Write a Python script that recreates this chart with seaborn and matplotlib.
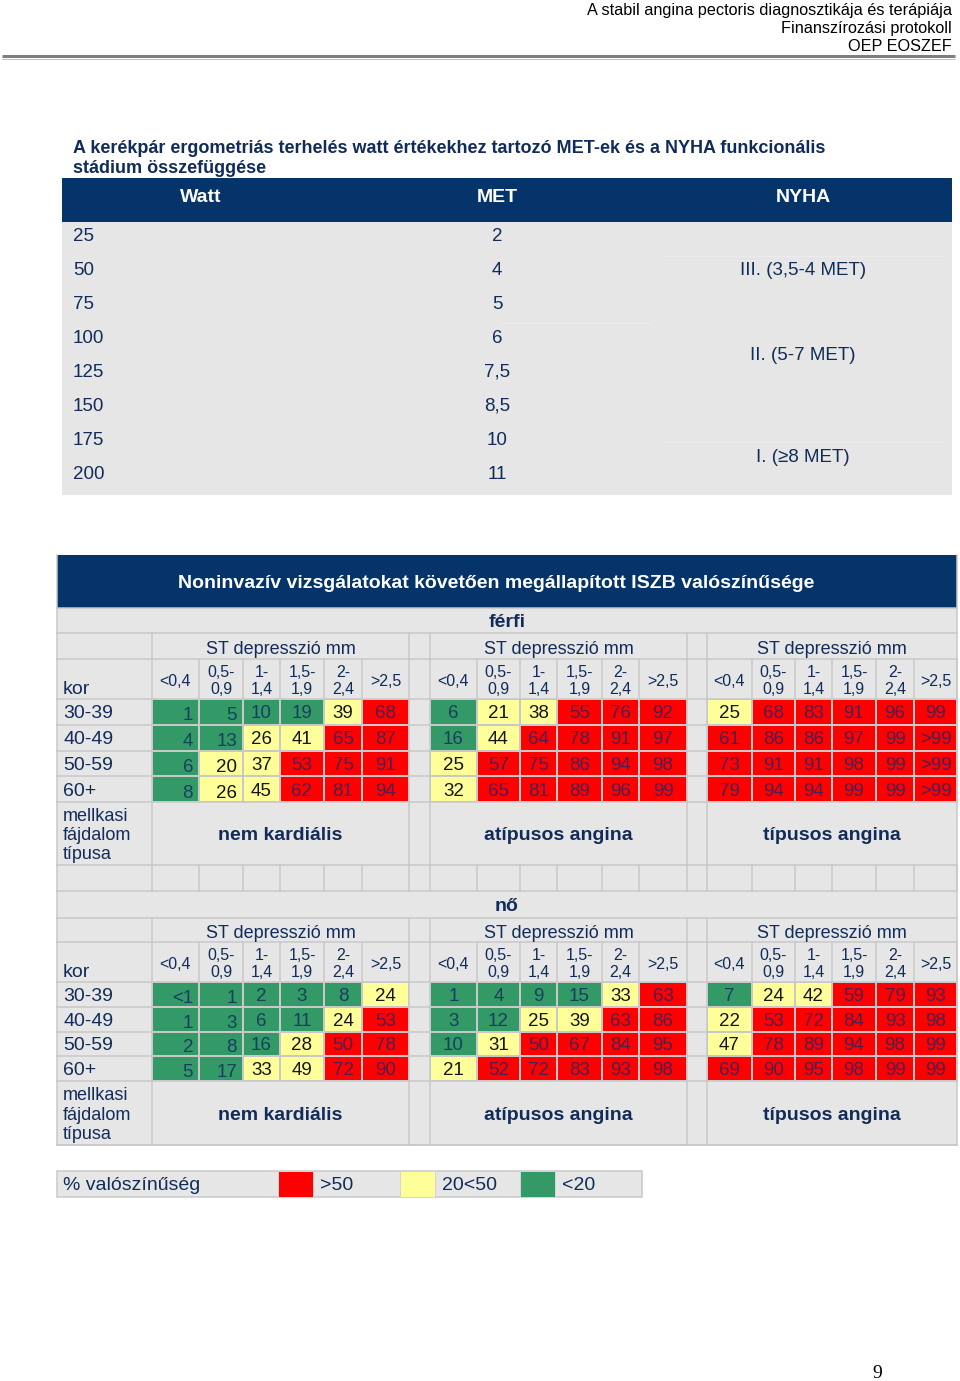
import numpy as np
import pandas as pd
import seaborn as sns
import matplotlib
matplotlib.use("Agg")
import matplotlib.pyplot as plt
from matplotlib.colors import ListedColormap, BoundaryNorm
from matplotlib.patches import Rectangle
from matplotlib.transforms import blended_transform_factory, offset_copy

# ---------------- data ----------------
page_header = ["A stabil angina pectoris diagnosztikája és terápiája",
               "Finanszírozási protokoll", "OEP EOSZEF"]
table1_title = ["A kerékpár ergometriás terhelés watt értékekhez tartozó MET-ek és a NYHA funkcionális",
                "stádium összefüggése"]
table1_columns = ["Watt", "MET", "NYHA"]
watt_values = ["25", "50", "75", "100", "125", "150", "175", "200"]
met_values = ["2", "4", "5", "6", "7,5", "8,5", "10", "11"]
nyha_labels = ["III. (3,5-4 MET)", "II. (5-7 MET)", "I. (≥8 MET)"]
nyha_row_spans = [(1, 1), (3, 4), (6, 7)]

table2_title = "Noninvazív vizsgálatokat követően megállapított ISZB valószínűsége"
sexes = ["férfi", "nő"]
st_header = "ST depresszió mm"
st_categories = ["<0,4", "0,5-\n0,9", "1-\n1,4", "1,5-\n1,9", "2-\n2,4", ">2,5"]
age_header = "kor"
age_groups = ["30-39", "40-49", "50-59", "60+"]
pain_header = "mellkasi\nfájdalom\ntípusa"
pain_types = ["nem kardiális", "atípusos angina", "típusos angina"]

male_nonkardialis = [["1", "5", "10", "19", "39", "68"],
                     ["4", "13", "26", "41", "65", "87"],
                     ["6", "20", "37", "53", "75", "91"],
                     ["8", "26", "45", "62", "81", "94"]]
male_atipusos = [["6", "21", "38", "55", "76", "92"],
                 ["16", "44", "64", "78", "91", "97"],
                 ["25", "57", "75", "86", "94", "98"],
                 ["32", "65", "81", "89", "96", "99"]]
male_tipusos = [["25", "68", "83", "91", "96", "99"],
                ["61", "86", "86", "97", "99", ">99"],
                ["73", "91", "91", "98", "99", ">99"],
                ["79", "94", "94", "99", "99", ">99"]]
female_nonkardialis = [["<1", "1", "2", "3", "8", "24"],
                       ["1", "3", "6", "11", "24", "53"],
                       ["2", "8", "16", "28", "50", "78"],
                       ["5", "17", "33", "49", "72", "90"]]
female_atipusos = [["1", "4", "9", "15", "33", "63"],
                   ["3", "12", "25", "39", "63", "86"],
                   ["10", "31", "50", "67", "84", "95"],
                   ["21", "52", "72", "83", "93", "98"]]
female_tipusos = [["7", "24", "42", "59", "79", "93"],
                  ["22", "53", "72", "84", "93", "98"],
                  ["47", "78", "89", "94", "98", "99"],
                  ["69", "90", "95", "98", "99", "99"]]
probabilities = {"férfi": [male_nonkardialis, male_atipusos, male_tipusos],
                 "nő": [female_nonkardialis, female_atipusos, female_tipusos]}

legend_title = "% valószínűség"
legend_labels = [">50", "20<50", "<20"]
prob_bounds = [0, 20, 50, 101]
page_number = "9"

# ---------------- style ----------------
W, H = 960, 1381
NAVY = "#04346a"
NAVY_TXT = "#112c5a"
GREY_BG = "#e6e6e6"
GRID = "#c8c8c8"
GREEN, YELLOW, RED = "#339966", "#ffff99", "#ff0000"
CELL_TXT = ["#17405e", "#151515", "#4d1f50"]
DY = 2  # visual centring correction (pixels)

sns.set_theme(style="white")
plt.rcParams["font.family"] = ["Liberation Sans", "DejaVu Sans"]

fig = plt.figure(figsize=(W / 100, H / 100), dpi=100)
bg = fig.add_axes([0, 0, 1, 1], zorder=0)
bg.set_xlim(0, W); bg.set_ylim(H, 0); bg.axis("off")
ov = fig.add_axes([0, 0, 1, 1], zorder=3)
ov.set_xlim(0, W); ov.set_ylim(H, 0); ov.axis("off")

PX = 0.72  # points per pixel

# ---------------- page header ----------------
for i, line in enumerate(page_header):
    bg.text(952, 8 + DY + 18 * i, line, ha="right", va="center", fontsize=11.7, color="#000000")
bg.plot([2, 955], [56, 56], color="#7f7f7f", lw=3 * PX, solid_capstyle="butt")
bg.plot([2, 955], [58.5, 58.5], color="#c0c0c0", lw=1 * PX, solid_capstyle="butt")

# ---------------- table 1 ----------------
for i, line in enumerate(table1_title):
    bg.text(73, 147 + 1 + 20.5 * i, line, ha="left", va="center", fontsize=13,
            fontweight="bold", color=NAVY_TXT, zorder=3)
bg.add_patch(Rectangle((62, 178), 890, 44, color=NAVY, lw=0))
bg.add_patch(Rectangle((62, 222), 890, 273, color=GREY_BG, lw=0))
col_x = [201, 497, 803]
for x, name in zip(col_x, table1_columns):
    bg.text(x, 195 + DY, name, ha="center", va="center", fontsize=14, fontweight="bold", color="white")
row_y = [234 + DY + 34.05 * i for i in range(len(watt_values))]
for y, w, m in zip(row_y, watt_values, met_values):
    bg.text(73, y, w, ha="left", va="center", fontsize=13.5, color=NAVY_TXT)
    bg.text(497, y, m, ha="center", va="center", fontsize=13.5, color=NAVY_TXT)
for lab, (r0, r1) in zip(nyha_labels, nyha_row_spans):
    y = (row_y[r0] + row_y[r1]) / 2
    bg.text(803, y, lab, ha="center", va="center", fontsize=13.5, color=NAVY_TXT)
for y, x0, x1 in [(256, 665, 945), (323, 500, 650), (442, 665, 945)]:
    bg.plot([x0, x1], [y, y], color="#ececec", lw=1 * PX)

# ---------------- table 2 ----------------
TL, TR = 57, 957
blocks = [[152, 199, 243, 280, 324, 362, 409],
          [430, 477, 520, 557, 602, 639, 687],
          [707, 752, 795, 832, 876, 914, 957]]
major_v = [152, 409, 430, 687, 707]
all_v = sorted(set(sum(blocks, [])))
sections = [dict(top=608, st=633, hdr=659, data=699, pain=802, bottom=865),
            dict(top=891, st=918, hdr=942, data=982, pain=1081, bottom=1145)]

bg.add_patch(Rectangle((TL, 555), TR - TL, 53, color=NAVY, lw=0))
bg.text(496, 581 + DY, table2_title, ha="center", va="center", fontsize=14,
        fontweight="bold", color="white")
bg.add_patch(Rectangle((TL, 608), TR - TL, 1145 - 608, color=GREY_BG, lw=0))

cmap = ListedColormap([GREEN, YELLOW, RED])
norm = BoundaryNorm(prob_bounds, cmap.N)


def to_num(s):
    if s.startswith("<"):
        return float(s[1:]) - 0.5
    if s.startswith(">"):
        return float(s[1:]) + 0.5
    return float(s.replace(",", "."))


def hline(y, x0=TL, x1=TR):
    ov.plot([x0, x1], [y, y], color=GRID, lw=1.5 * PX, solid_capstyle="projecting")


def vline(x, y0, y1):
    ov.plot([x, x], [y0, y1], color=GRID, lw=1.5 * PX, solid_capstyle="projecting")


for sex, sec in zip(sexes, sections):
    row_edges = np.linspace(sec["data"], sec["pain"], len(age_groups) + 1)
    ov.text((TL + TR) / 2, (sec["top"] + sec["st"]) / 2 + DY, sex, ha="center", va="center",
            fontsize=14, fontweight="bold", color=NAVY_TXT)
    ov.text(63, sec["data"] - 12 + DY, age_header, ha="left", va="center", fontsize=14,
            color=NAVY_TXT)
    ov.text(63, (sec["pain"] + sec["bottom"]) / 2 + DY, pain_header, ha="left", va="center",
            fontsize=13, color=NAVY_TXT, linespacing=1.17)
    for k, (edges, ptype) in enumerate(zip(blocks, pain_types)):
        cx = (edges[0] + edges[-1]) / 2
        ov.text(cx, (sec["st"] + sec["hdr"]) / 2 + 1 + DY, st_header, ha="center", va="center",
                fontsize=13, color=NAVY_TXT)
        ov.text(cx, (sec["pain"] + sec["bottom"]) / 2 + DY, ptype, ha="center", va="center",
                fontsize=14, fontweight="bold", color=NAVY_TXT)
        # heatmap block
        y0, y1 = sec["data"], sec["pain"]
        hax = fig.add_axes([edges[0] / W, 1 - y1 / H, (edges[-1] - edges[0]) / W, (y1 - y0) / H],
                           zorder=1)
        idx = np.arange(len(edges), dtype=float)
        ed = np.array(edges, dtype=float)
        hax.set_xscale("function", functions=(lambda x, idx=idx, ed=ed: np.interp(x, idx, ed),
                                              lambda p, idx=idx, ed=ed: np.interp(p, ed, idx)))
        labels = probabilities[sex][k]
        df = pd.DataFrame([[to_num(v) for v in row] for row in labels],
                          index=age_groups, columns=st_categories)
        sns.heatmap(df, ax=hax, cmap=cmap, norm=norm, cbar=False, linewidths=1.5 * PX,
                    linecolor=GRID, xticklabels=False, yticklabels=False)
        hax.set_xlim(0, len(st_categories)); hax.set_ylim(len(age_groups), 0)
        hax.set_xlabel(""); hax.set_ylabel("")
        for s in hax.spines.values():
            s.set_visible(False)
        center_tr = offset_copy(hax.transData, fig=fig, x=0, y=-DY, units="dots")
        right_tr = offset_copy(hax.transData, fig=fig, x=-6, y=-DY - 2, units="dots")
        for i, row in enumerate(labels):
            for j, lab in enumerate(row):
                c = CELL_TXT[int(norm(to_num(lab)))]
                if k == 0 and j < 2:
                    hax.text(j + 1, i + 0.5, lab, transform=right_tr, ha="right", va="center",
                             fontsize=13.5, color=c)
                else:
                    hax.text(j + 0.5, i + 0.5, lab, transform=center_tr, ha="center",
                             va="center", fontsize=13.5, color=c)
        # column headers above the block
        htr = blended_transform_factory(hax.transData, ov.transData)
        for j, cat in enumerate(st_categories):
            ov.text(j + 0.5, (sec["hdr"] + sec["data"]) / 2 + DY, cat, transform=htr,
                    ha="center", va="center", fontsize=11.5, color=NAVY_TXT, linespacing=1.1)
    for i, age in enumerate(age_groups):
        ov.text(63, (row_edges[i] + row_edges[i + 1]) / 2 + DY, age, ha="left", va="center",
                fontsize=14, color=NAVY_TXT)
    for y in [sec["top"], sec["st"], sec["hdr"], *row_edges, sec["bottom"]]:
        hline(y)
    for x in major_v:
        vline(x, sec["st"], sec["hdr"])
        vline(x, sec["pain"], sec["bottom"])
    for x in all_v:
        vline(x, sec["hdr"], sec["pain"])

# spacer row between sections
for x in all_v:
    vline(x, sections[0]["bottom"], sections[1]["top"])
vline(TL, 555, 1145)
vline(TR, 555, 1145)
hline(1145)

# ---------------- legend ----------------
bg.add_patch(Rectangle((57, 1171), 585, 26, facecolor=GREY_BG, edgecolor=GRID, lw=1.5 * PX))
bg.text(63, 1184 + DY, legend_title, ha="left", va="center", fontsize=14, color=NAVY_TXT)
sw_x = [278, 400, 520]
for x, lab, col in zip(sw_x, legend_labels, list(cmap.colors)[::-1]):
    bg.add_patch(Rectangle((x, 1171), 35, 26, facecolor=col, edgecolor="#d4d4d4", lw=1 * PX))
    bg.text(x + 42, 1184 + DY, lab, ha="left", va="center", fontsize=14, color=NAVY_TXT)

# ---------------- page number ----------------
bg.text(877, 1371 + DY, page_number, ha="center", va="center", fontsize=14,
        family=["Liberation Serif", "DejaVu Serif"], color="#000000")

fig.savefig("out.png", dpi=100)
